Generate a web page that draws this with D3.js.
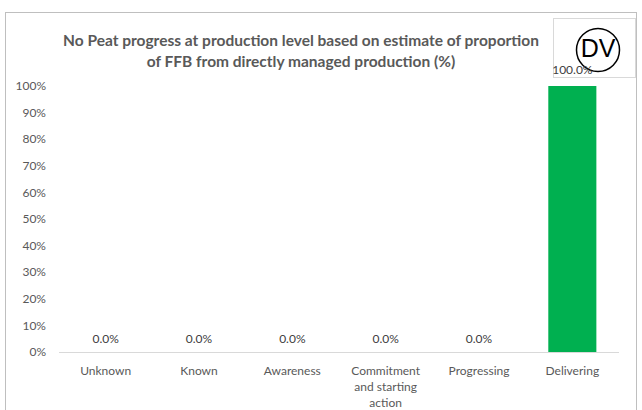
<!DOCTYPE html>
<html>
<head>
<meta charset="utf-8">
<script src="https://cdn.jsdelivr.net/npm/d3@7.9.0/dist/d3.min.js"></script>
<style>
  body { margin: 0; background: #fff; }
  svg { display: block; font-family: Lato, "Open Sans", sans-serif; }
</style>
</head>
<body>
<svg id="chart" width="642" height="410"></svg>
<script>
// chart data
const categories = ['Unknown', 'Known', 'Awareness', 'Commitment and starting action', 'Progressing', 'Delivering'];
const categoryLines = [['Unknown'], ['Known'], ['Awareness'], ['Commitment', 'and starting', 'action'], ['Progressing'], ['Delivering']];
const values = [0, 0, 0, 0, 0, 100];
const yTicks = [0, 10, 20, 30, 40, 50, 60, 70, 80, 90, 100];
const titleLines = [
    'No Peat progress at production level based on estimate of proportion',
    'of FFB from directly managed production (%)'
];

const svg = d3.select('#chart');

// outer frame
svg.append('rect')
    .attr('x', 5.5).attr('y', 12.5)
    .attr('width', 631).attr('height', 410)
    .attr('fill', '#fff')
    .attr('stroke', '#bfbfbf');

const x = d3.scaleBand()
    .domain(categories)
    .range([59, 619])
    .paddingInner(0.485)
    .paddingOuter(0.2425);

const y = d3.scaleLinear()
    .domain([0, 100])
    .range([352, 86]);

// title
svg.append('text')
    .attr('text-anchor', 'middle')
    .attr('fill', '#595959')
    .attr('font-size', 15.5)
    .attr('font-weight', 'bold')
    .selectAll('tspan')
    .data(titleLines)
    .join('tspan')
    .attr('x', 301)
    .attr('y', (d, i) => 46 + i * 21)
    .text(d => d);

// y axis labels
svg.append('g')
    .selectAll('text')
    .data(yTicks)
    .join('text')
    .attr('x', 46)
    .attr('y', d => y(d))
    .attr('dy', '0.35em')
    .attr('text-anchor', 'end')
    .attr('fill', '#595959')
    .attr('font-size', 12)
    .text(d => d + '%');

// bars
svg.append('g')
    .selectAll('rect')
    .data(values)
    .join('rect')
    .attr('x', (d, i) => x(categories[i]))
    .attr('y', d => y(d))
    .attr('width', x.bandwidth())
    .attr('height', d => y(0) - y(d))
    .attr('fill', '#00b050');

// baseline
svg.append('line')
    .attr('x1', 59).attr('x2', 619)
    .attr('y1', y(0) + 0.5).attr('y2', y(0) + 0.5)
    .attr('stroke', '#d9d9d9');

// category labels
svg.append('g')
    .selectAll('text')
    .data(categoryLines)
    .join('text')
    .attr('text-anchor', 'middle')
    .attr('fill', '#595959')
    .attr('font-size', 12)
    .each(function (lines, i) {
        const cx = x(categories[i]) + x.bandwidth() / 2;
        d3.select(this).selectAll('tspan')
            .data(lines)
            .join('tspan')
            .attr('x', cx)
            .attr('y', (d, j) => 375 + j * 16)
            .text(d => d);
    });

// DV badge
const badge = svg.append('g');
badge.append('rect')
    .attr('x', 553.5).attr('y', 18.5)
    .attr('width', 82).attr('height', 59)
    .attr('fill', '#fff')
    .attr('stroke', '#d9d9d9');
badge.append('circle')
    .attr('cx', 598).attr('cy', 50)
    .attr('r', 21.5)
    .attr('fill', 'none')
    .attr('stroke', '#000')
    .attr('stroke-width', 1.5);
badge.append('text')
    .attr('x', 598).attr('y', 48)
    .attr('dy', '0.36em')
    .attr('text-anchor', 'middle')
    .attr('font-family', 'Liberation Sans, sans-serif')
    .attr('font-size', 25)
    .attr('fill', '#000')
    .text('DV');

// value labels
svg.append('g')
    .selectAll('text')
    .data(values)
    .join('text')
    .attr('x', (d, i) => x(categories[i]) + x.bandwidth() / 2)
    .attr('y', d => d === 100 ? y(d) - 12 : y(d) - 9)
    .attr('text-anchor', 'middle')
    .attr('fill', '#404040')
    .attr('font-size', 12)
    .text(d => d.toFixed(1) + '%');
</script>
</body>
</html>
